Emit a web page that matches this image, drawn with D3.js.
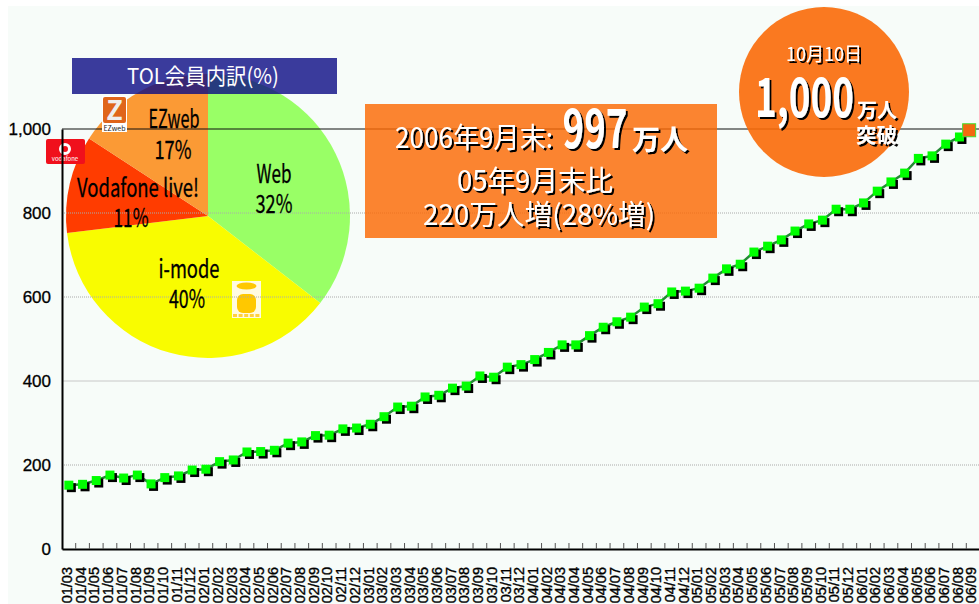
<!DOCTYPE html>
<html>
<head>
<meta charset="utf-8">
<script src="https://cdnjs.cloudflare.com/ajax/libs/d3/7.8.5/d3.min.js"></script>
<style>
  html, body { margin: 0; padding: 0; background: #fff; overflow: hidden; }
  svg { display: block; }
  text { font-family: "Noto Sans CJK JP", "Liberation Sans", sans-serif; }
  .axis text { font-family: "Liberation Sans", Arial, sans-serif; fill: #000; }
</style>
</head>
<body>
<div id="viz"></div>
<script>
// months along the x axis, 2001/03 - 2006/09
var months = [
  "01/03","01/04","01/05","01/06","01/07","01/08","01/09","01/10","01/11","01/12",
  "02/01","02/02","02/03","02/04","02/05","02/06","02/07","02/08","02/09","02/10","02/11","02/12",
  "03/01","03/02","03/03","03/04","03/05","03/06","03/07","03/08","03/09","03/10","03/11","03/12",
  "04/01","04/02","04/03","04/04","04/05","04/06","04/07","04/08","04/09","04/10","04/11","04/12",
  "05/01","05/02","05/03","05/04","05/05","05/06","05/07","05/08","05/09","05/10","05/11","05/12",
  "06/01","06/02","06/03","06/04","06/05","06/06","06/07","06/08","06/09"];

// members, in 10,000s
var members = [
  152,154,163,176,169,176,155,170,174,188,
  190,208,212,231,232,235,252,255,270,271,286,288,
  297,315,338,340,362,366,383,388,412,409,433,439,
  451,468,486,486,508,528,541,552,576,584,612,614,
  621,645,667,678,707,721,736,757,774,783,809,809,
  824,852,874,895,930,936,964,981,997];

var yTicks = [0, 200, 400, 600, 800, 1000];

// pie: printed labels, and slice sizes as actually drawn (they differ from the printed %)
var pieNames = ["Web", "i-mode", "Vodafone live!", "EZweb"];
var piePercents = ["32%", "40%", "11%", "17%"];
var pieDrawn = [35.5, 37.6, 11.1, 15.8];
var pieColors = ["#99ff66", "#f9fc00", "#ff3c00", "#fb9a35"];

var width = 979, height = 604;

var svg = d3.select("#viz").append("svg")
  .attr("width", width)
  .attr("height", height);

// hard black shadow for the white lettering
svg.append("defs").append("filter")
  .attr("id", "hard-shadow")
  .attr("x", "-10%").attr("y", "-10%").attr("width", "120%").attr("height", "120%")
  .append("feDropShadow")
  .attr("dx", 2).attr("dy", 2)
  .attr("stdDeviation", 0)
  .attr("flood-color", "#000");

var x = d3.scaleBand().domain(months).range([62, 980]);
var y = d3.scaleLinear().domain([0, 1000]).range([549, 129]);

// stretched/squeezed text, the original lettering is tall and narrow
function label(str, cx, base, size, len, opts) {
  opts = opts || {};
  var t = svg.append("text").text(str)
    .attr("x", cx).attr("y", base)
    .attr("text-anchor", "middle")
    .attr("font-size", size)
    .attr("font-weight", opts.weight || 400)
    .attr("textLength", len).attr("lengthAdjust", "spacingAndGlyphs")
    .attr("fill", opts.fill || "#000");
  if (opts.shadow) t.attr("filter", "url(#hard-shadow)");
  if (opts.thick) t.attr("stroke", opts.fill || "#000").attr("stroke-width", opts.thick);
}

// background panel
svg.append("rect")
  .attr("x", 8).attr("y", 6)
  .attr("width", width - 8).attr("height", height - 6)
  .attr("fill", "#f7fcf9");

// pie sits behind the axes
var pie = d3.pie().sort(null).value(function (d) { return d; });
var arc = d3.arc().innerRadius(0).outerRadius(142);
svg.append("g")
  .attr("transform", "translate(208,216)")
  .selectAll("path")
  .data(pie(pieDrawn))
  .enter().append("path")
  .attr("d", arc)
  .attr("fill", function (d, i) { return pieColors[i]; });

// i-mode logo
svg.append("rect").attr("x", 232).attr("y", 281).attr("width", 29).attr("height", 37).attr("fill", "#fffbe0");
svg.append("ellipse").attr("cx", 246.5).attr("cy", 286).attr("rx", 10).attr("ry", 3.5).attr("fill", "#ffc800");
svg.append("rect").attr("x", 237).attr("y", 294).attr("width", 19).attr("height", 19).attr("rx", 6).attr("fill", "#ffc800");
d3.range(5).forEach(function (k) {
  svg.append("rect").attr("x", 233 + k * 5.6).attr("y", 314).attr("width", 4).attr("height", 3).attr("fill", "#ffd040");
});

// gridlines
for (var i = 1; i < yTicks.length - 1; i++) {
  svg.append("line")
    .attr("x1", 62).attr("x2", width)
    .attr("y1", y(yTicks[i])).attr("y2", y(yTicks[i]))
    .attr("stroke", yTicks[i] == 400 ? "#c8c8c8" : "#aaa")
    .attr("stroke-width", 1)
    .attr("stroke-dasharray", yTicks[i] == 400 ? null : "1,1");
}
svg.append("line")
  .attr("x1", 62).attr("x2", width)
  .attr("y1", y(1000)).attr("y2", y(1000))
  .attr("stroke", "#111").attr("stroke-width", 1.2);

// vodafone logo
svg.append("rect").attr("x", 46).attr("y", 139).attr("width", 39).attr("height", 25).attr("rx", 2).attr("fill", "#f0101c");
svg.append("circle").attr("cx", 65).attr("cy", 149).attr("r", 4.5).attr("fill", "none").attr("stroke", "#fff").attr("stroke-width", 3);
svg.append("text").text("vodafone").attr("x", 65).attr("y", 161).attr("text-anchor", "middle").attr("font-size", 6).attr("fill", "#fff");

// EZweb logo
svg.append("rect").attr("x", 102).attr("y", 96).attr("width", 25).attr("height", 36).attr("fill", "#fff");
svg.append("rect").attr("x", 103).attr("y", 97).attr("width", 23).attr("height", 26).attr("rx", 2).attr("fill", "#e0651a");
svg.append("text").text("Z").attr("x", 114.5).attr("y", 120).attr("text-anchor", "middle").attr("font-size", 27).attr("font-weight", 700).attr("fill", "#eee");
svg.append("text").text("EZweb").attr("x", 114.5).attr("y", 131).attr("text-anchor", "middle").attr("font-size", 7).attr("fill", "#222");

// axes
var yAxis = svg.append("g").attr("class", "axis y")
  .attr("transform", "translate(62,0)")
  .call(d3.axisLeft(y).tickValues(yTicks).tickFormat(d3.format(",")).tickSize(0).tickPadding(11));
yAxis.selectAll("text").attr("font-size", 17).attr("stroke", "#000").attr("stroke-width", 0.3);
yAxis.select(".domain").attr("stroke", "#000").attr("stroke-width", 2);

var xAxis = svg.append("g").attr("class", "axis x")
  .attr("transform", "translate(0,549)")
  .call(d3.axisBottom(x).tickSize(0).tickSizeOuter(0));
xAxis.select(".domain").attr("stroke", "#000").attr("stroke-width", 2);
xAxis.selectAll("text")
  .attr("transform", "rotate(-90)")
  .attr("x", -18).attr("y", -2).attr("dy", "0.36em")
  .attr("text-anchor", "end")
  .attr("font-size", 14.5)
  .attr("stroke", "#000").attr("stroke-width", 0.35);

// little ticks go up from the axis, on the month boundaries
svg.selectAll("line.tick-up")
  .data(months)
  .enter().append("line")
  .attr("class", "tick-up")
  .attr("x1", function (d) { return x(d) + x.bandwidth(); })
  .attr("x2", function (d) { return x(d) + x.bandwidth(); })
  .attr("y1", 543).attr("y2", 549)
  .attr("stroke", "#555").attr("stroke-width", 1);

// series line + markers
var line = d3.line()
  .x(function (d, i) { return x(months[i]) + x.bandwidth() / 2; })
  .y(function (d) { return y(d); });

svg.append("path")
  .datum(members)
  .attr("d", line)
  .attr("fill", "none")
  .attr("stroke", "#228b33")
  .attr("stroke-width", 2.5);

var shown = members.slice(0, -1);
svg.selectAll("rect.shadow")
  .data(shown)
  .enter().append("rect")
  .attr("class", "shadow")
  .attr("x", function (d, i) { return x(months[i]) + x.bandwidth() / 2 - 2; })
  .attr("y", function (d) { return y(d) - 2; })
  .attr("width", 9).attr("height", 9)
  .attr("fill", "#000");
svg.selectAll("rect.mark")
  .data(shown)
  .enter().append("rect")
  .attr("class", "mark")
  .attr("x", function (d, i) { return x(months[i]) + x.bandwidth() / 2 - 4.5; })
  .attr("y", function (d) { return y(d) - 4.5; })
  .attr("width", 9).attr("height", 9)
  .attr("fill", "#00ff00");

// last point, orange, sits a little left of its slot in the original
svg.append("rect")
  .attr("x", x(months[66]) + x.bandwidth() / 2 - 10.5)
  .attr("y", y(members[66]) - 6.5)
  .attr("width", 13).attr("height", 13)
  .attr("fill", "#f26a10")
  .attr("stroke", "#44e030")
  .attr("stroke-width", 1);

// pie labels
label(pieNames[0], 274, 183, 25, 35, { thick: 0.3 });
label(piePercents[0], 274, 213, 25, 37, { thick: 0.3 });
label(pieNames[1], 189, 278, 25, 61, { thick: 0.3 });
label(piePercents[1], 187, 308, 25, 36, { thick: 0.3 });
label(pieNames[2], 138, 197, 25, 122, { thick: 0.3 });
label(piePercents[2], 131, 227, 25, 35, { thick: 0.3 });
label(pieNames[3], 174, 128, 25, 51, { thick: 0.3 });
label(piePercents[3], 173, 159, 25, 37, { thick: 0.3 });

// title banner
svg.append("rect")
  .attr("x", 72).attr("y", 58)
  .attr("width", 265).attr("height", 36)
  .attr("fill", "#0a0a85").attr("opacity", 0.8);
label("TOL会員内訳(%)", 203, 84, 22, 152, { fill: "#fff" });

// callout box
svg.append("rect")
  .attr("x", 365).attr("y", 104)
  .attr("width", 352).attr("height", 134)
  .attr("fill", "#fb6904").attr("opacity", 0.82);
label("2006年9月末:", 474, 148, 28, 158, { fill: "#fff", shadow: true });
label("997", 595, 148, 54, 65, { fill: "#fff", shadow: true, weight: 700 });
label("万人", 660, 150, 28, 56, { fill: "#fff", shadow: true, weight: 700 });
label("05年9月末比", 535, 191, 28, 156, { fill: "#fff", shadow: true });
label("220万人増(28%増)", 539, 225, 28, 232, { fill: "#fff", shadow: true });

// 1,000 circle
svg.append("circle")
  .attr("cx", 824).attr("cy", 92).attr("r", 85)
  .attr("fill", "#f96a08").attr("opacity", 0.9);
label("10月10日", 824, 61, 19, 76, { fill: "#fff", shadow: true });
label("1,000", 804.5, 117, 54, 99, { fill: "#fff", shadow: true, weight: 700 });
label("万人", 877, 118, 20, 40, { fill: "#fff", shadow: true, weight: 700 });
label("突破", 876.5, 143, 20, 41, { fill: "#fff", shadow: true, weight: 700 });
</script>
</body>
</html>
